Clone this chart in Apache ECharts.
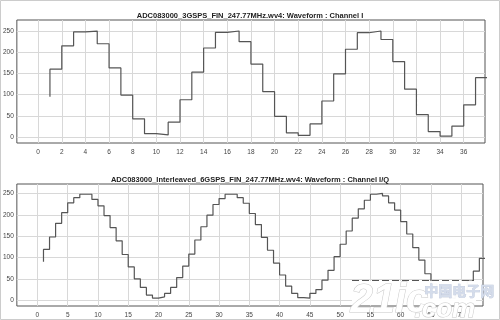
<!DOCTYPE html>
<html>
<head>
<meta charset="utf-8">
<script src="https://cdn.jsdelivr.net/npm/echarts@6/dist/echarts.min.js"></script>
<style>html,body{margin:0;padding:0;background:#fff;}#c{width:500px;height:320px;}</style>
</head>
<body>
<div id="c"></div>
<script>
// Channel I (3 GSPS) sample levels, sample index starts at 1
const topValues = [95,160,215,248,250,220,163,99,43,8,5,35,88,153,210,247,250,225,172,107,49,10,4,31,85,149,207,246,250,230,178,113,53,13,2,26,76,140];
// Channel I/Q interleaved (6 GSPS) sample levels, sample index starts at 1
const bottomValues = [90,119,148,180,205,228,240,248,248,236,221,198,170,139,107,78,50,30,12,5,8,16,30,53,80,108,141,172,199,224,238,248,248,240,227,203,177,147,117,87,59,33,16,6,5,16,25,47,70,102,131,162,192,214,234,248,250,244,228,211,184,155,123,94,62,38,18,7,4,10,24,45,68,98];
const topXTicks = [0,2,4,6,8,10,12,14,16,18,20,22,24,26,28,30,32,34,36];
const bottomXTicks = [0,5,10,15,20,25,30,35,40,45,50,55,60,65,70];
const yTicks = [0,50,100,150,200,250];
const topTitle = 'ADC083000_3GSPS_FIN_247.77MHz.wv4: Waveform : Channel I';
const bottomTitle = 'ADC083000_Interleaved_6GSPS_FIN_247.77MHz.wv4: Waveform : Channel I/Q';

const toPairs = arr => arr.map((v, i) => [i + 1, v]);
const font = 'Liberation Sans';
const labelStyle = {color: '#444', fontSize: 6.5, fontFamily: font};

function xAxis(idx, min, max, ticks) {
  return {
    type: 'value', gridIndex: idx, min: min, max: max,
    axisLine: {show: false},
    axisTick: {show: false, customValues: ticks},
    axisLabel: Object.assign({customValues: ticks, margin: 6, formatter: v => String(v)}, labelStyle),
    splitLine: {show: true, lineStyle: {color: '#d8d8d8', width: 1}}
  };
}
function yAxis(idx, min, max) {
  return {
    type: 'value', gridIndex: idx, min: min, max: max,
    axisLine: {show: false},
    axisTick: {show: false, customValues: yTicks},
    axisLabel: Object.assign({customValues: yTicks, margin: 3, formatter: v => String(v)}, labelStyle),
    splitLine: {show: true, lineStyle: {color: '#d8d8d8', width: 1}}
  };
}

const chart = echarts.init(document.getElementById('c'), null, {renderer: 'canvas'});
chart.setOption({
  animation: false,
  backgroundColor: '#fff',
  title: [
    {text: topTitle, left: 'center', top: 7, textStyle: {fontSize: 7.5, fontWeight: 'bold', color: '#222', fontFamily: font}},
    {text: bottomTitle, left: 'center', top: 171, textStyle: {fontSize: 7.5, fontWeight: 'bold', color: '#222', fontFamily: font}}
  ],
  grid: [
    {left: 16, top: 20, width: 469, height: 123, show: true, borderColor: '#555', borderWidth: 1, backgroundColor: 'transparent'},
    {left: 16, top: 184, width: 467, height: 122, show: true, borderColor: '#555', borderWidth: 1, backgroundColor: 'transparent'}
  ],
  xAxis: [xAxis(0, -1.8, 37.8, topXTicks), xAxis(1, -3.4, 73.6, bottomXTicks)],
  yAxis: [yAxis(0, -14, 276), yAxis(1, -13.5, 272)],
  series: [
    {type: 'line', xAxisIndex: 0, yAxisIndex: 0, step: 'start', showSymbol: false, data: toPairs(topValues),
     lineStyle: {color: '#555', width: 1.2}},
    {type: 'line', xAxisIndex: 1, yAxisIndex: 1, step: 'start', showSymbol: false, data: toPairs(bottomValues),
     lineStyle: {color: '#555', width: 1.2}}
  ],
  graphic: [
    {type: 'rect', shape: {x: 0.5, y: 0.5, width: 499, height: 319}, style: {fill: 'none', stroke: '#ccc', lineWidth: 1}, z: 100},
    // watermark
    {type: 'rect', shape: {x: 352, y: 281, width: 124, height: 24}, style: {fill: 'rgba(255,255,255,0.96)'}, z: 100},
    {type: 'line', shape: {x1: 352, y1: 280.5, x2: 474, y2: 280.5}, style: {stroke: '#555', lineWidth: 1, lineDash: [7, 3]}, z: 101},
    {type: 'text', left: 350, top: 280, z: 102, style: {text: '21ic', fontSize: 40, fontWeight: 'bold', fontStyle: 'italic', fontFamily: font, fill: '#fff', stroke: '#c8c8c8', lineWidth: 1}},
    {type: 'text', left: 424, top: 283, z: 102, style: {text: '中国电子网', fontSize: 14, fontWeight: 'bold', fontFamily: 'Noto Sans CJK SC', fill: '#d4dceb', stroke: '#b8c2d6', lineWidth: 0.6}},
    {type: 'text', left: 414, top: 296, z: 102, style: {text: '.com', fontSize: 26, fontWeight: 'bold', fontStyle: 'italic', fontFamily: font, fill: '#fff', stroke: '#c8c8c8', lineWidth: 1}}
  ]
});
</script>
</body>
</html>
